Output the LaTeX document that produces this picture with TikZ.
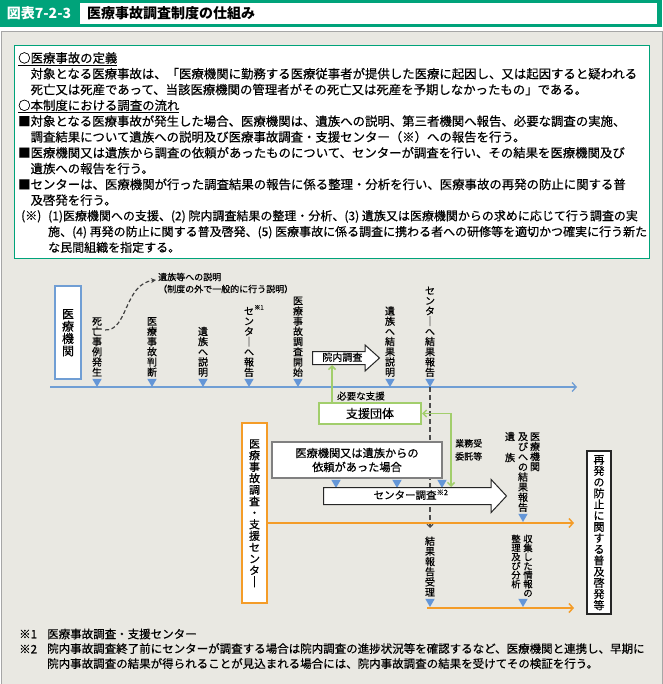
\documentclass[tikz,border=0pt]{standalone}
\usepackage{fontspec}
\setmainfont{Noto Sans CJK JP}[UprightFeatures={FakeBold=0.45}]
\usetikzlibrary{positioning,shapes.geometric,shapes.arrows,arrows.meta,calc}

\definecolor{hgreen}{RGB}{0,163,122}
\definecolor{panelgray}{RGB}{233,232,226}
\definecolor{tlblue}{RGB}{112,158,212}
\definecolor{triblue}{RGB}{100,150,215}
\definecolor{sgreen}{RGB}{162,206,108}
\definecolor{orng}{RGB}{244,156,40}
\definecolor{boxgray}{RGB}{128,128,128}

\newcommand{\fsz}[1]{\fontsize{#1}{#1}\selectfont}
% vertical text, one character per row
\makeatletter
\newcommand{\tate}[2][1.02em]{\def\tate@p{#1}\vbox{\offinterlineskip\tate@#2\relax}}
\def\tate@#1{\ifx\relax#1\else\hbox to 1em{\hss\raisebox{0pt}[0.88em][\dimexpr\tate@p-0.88em\relax]{#1}\hss}\expandafter\tate@\fi}
\makeatother

\begin{document}
\begin{tikzpicture}[x=1pt, y=-1pt,
    tline/.style={draw=tlblue, line width=1.3pt, -{Straight Barb[length=4pt, width=9pt]}},
    oline/.style={draw=orng, line width=1.5pt, -{Straight Barb[length=4pt, width=9pt]}},
    gline/.style={draw=sgreen, line width=1.5pt},
    dline/.style={draw=black!70, line width=1.2pt, dash pattern=on 5pt off 3pt, -{Straight Barb[length=3pt, width=6pt]}},
    tri/.style={regular polygon, regular polygon sides=3, shape border rotate=180, fill=triblue, inner sep=0pt, minimum size=11pt},
    vlab/.style={inner sep=0pt, font=\fsz{10}},
    orgbox/.style={draw=tlblue, line width=1.8pt, fill=white, inner sep=0pt, font=\fsz{12}},
    cbox/.style={draw=orng, line width=2.2pt, fill=white, inner sep=0pt, font=\fsz{11}},
    shienbox/.style={draw=sgreen, line width=2pt, fill=white, inner sep=0pt, font=\fsz{12}},
    reqbox/.style={draw=boxgray, line width=1.5pt, fill=white, inner sep=0pt, align=center, font=\fontsize{11.2}{14}\selectfont},
    endbox/.style={draw=black!85, line width=1.6pt, fill=white, inner sep=0pt, font=\fsz{11}},
    blockarrow/.style={single arrow, draw=black!85, fill=white, line width=1pt, single arrow head indent=0pt, inner xsep=2pt},
]
\useasboundingbox (0,0) rectangle (662,684);

%Header
\node[fill=hgreen, minimum width=662pt, minimum height=27pt, inner sep=0pt, anchor=north west] (hdr) at (0,0) {};
\node[fill=white, minimum width=577pt, minimum height=21pt, inner sep=0pt, anchor=north west] (ttlbox) at (80,3) {};
\node[font=\fsz{14}\bfseries, text=white, inner sep=0pt] (fignum) at (39,13.5) {図表7-2-3};
\node[font=\fsz{14}\bfseries, anchor=west, inner sep=0pt] (ttl) at (87,13.5) {医療事故調査制度の仕組み};

%Panel and text box
\node[draw=black!35, fill=panelgray, minimum width=661pt, minimum height=652pt, inner sep=0pt, anchor=north west] (panel) at (0.5,31.5) {};
\node[draw=hgreen, line width=1.3pt, fill=white, minimum width=635pt, minimum height=213pt, inner sep=0pt, anchor=north west] (defbox) at (14,45) {};
\node[anchor=north west, inner sep=0pt, align=left, font=\fontsize{12.4}{15.8}\selectfont] (deftxt) at (18,52) {%
\underline{○医療事故の定義}\\
\hspace*{1em}対象となる医療事故は、「医療機関に勤務する医療従事者が提供した医療に起因し、又は起因すると疑われる\\
\hspace*{1em}死亡又は死産であって、当該医療機関の管理者がその死亡又は死産を予期しなかったもの」である。\\
\underline{○本制度における調査の流れ}\\
■対象となる医療事故が発生した場合、医療機関は、遺族への説明、第三者機関へ報告、必要な調査の実施、\\
\hspace*{1em}調査結果について遺族への説明及び医療事故調査・支援センター（※）への報告を行う。\\
■医療機関又は遺族から調査の依頼があったものについて、センターが調査を行い、その結果を医療機関及び\\
\hspace*{1em}遺族への報告を行う。\\
■センターは、医療機関が行った調査結果の報告に係る整理・分析を行い、医療事故の再発の防止に関する普\\
\hspace*{1em}及啓発を行う。};
\node[anchor=north west, inner sep=0pt, font=\fsz{12}] (kome) at (21,210) {(※)};
\node[anchor=north west, inner sep=0pt, align=left, font=\fontsize{12}{15.8}\selectfont] (notetxt) at (48,210) {%
(1)医療機関への支援、(2) 院内調査結果の整理・分析、(3) 遺族又は医療機関からの求めに応じて行う調査の実\\
施、(4) 再発の防止に関する普及啓発、(5) 医療事故に係る調査に携わる者への研修等を適切かつ確実に行う新た\\
な民間組織を指定する。};

%Timeline
\coordinate (tlA) at (50,387);
\coordinate (tlB) at (577,387);
\draw[tline] (tlA) -- (tlB);
\foreach \nm/\xx in {t1/97, t2/152, t3/203, t4/249, t5/298, t6/390, t7/430}
    \node[tri] (\nm) at (\xx,381.5) {};

\node[orgbox, minimum width=26pt, minimum height=93pt] (kikan) at (68,332.5) {\tate[12.3pt]{医療機関}};
\node[vlab, above=1pt of t1] (hassei) {\tate[10.2pt]{死亡事例発生}};
\node[vlab, above=1pt of t2] (handan) {\tate[10.2pt]{医療事故判断}};
\node[vlab, above=1pt of t3] (setsumei) {\tate[10.2pt]{遺族へ説明}};
\node[vlab, above=1pt of t4] (hokoku) {\tate[10.2pt]{センタ｜へ報告}};
\node[font=\fsz{6}, inner sep=0pt, anchor=south west] (kome1) at ([yshift=-4pt]hokoku.north east) {※1};
\node[vlab, above=1pt of t5] (kaishi) {\tate[10.2pt]{医療事故調査開始}};
\node[vlab, above=1pt of t6] (kekkaset) {\tate[10.2pt]{遺族へ結果説明}};
\node[vlab, above=1pt of t7] (kekkahok) {\tate[10.2pt]{センタ｜へ結果報告}};

\node[font=\fsz{9}, inner sep=0pt, anchor=west] (setsu) at (158,277) {遺族等への説明};
\node[font=\fsz{9}, inner sep=0pt, anchor=west] (setsu2) at (158,289) {（制度の外で一般的に行う説明）};
\draw[black!75, line width=1.2pt, dash pattern=on 4pt off 2.5pt, -{Stealth[length=5pt, width=5pt]}]
    ($(hassei.north east)+(3,14)$) .. controls (128,331) and (124,284) .. ([xshift=-2pt, yshift=-3pt]setsu.west);

%Hospital investigation and support
\node[blockarrow, minimum height=67pt, single arrow head extend=6.5pt, single arrow tip angle=84,
      text height=8pt, text depth=2pt, inner ysep=1pt, font=\fsz{10}, anchor=tail] (innai) at (312,358) {院内調査};
\node[shienbox, minimum width=102pt, minimum height=21pt] (shien) at (370,413.5) {支援団体};
\coordinate (gsup) at ($(shien.north west)+(14,0)$);
\draw[gline, -{Straight Barb[length=3.5pt, width=7pt]}] (gsup) -- (gsup |- innai.south);
\node[font=\fsz{9.5}, inner sep=0pt, anchor=west] (hitsuyo) at (337,396) {必要な支援};

\coordinate (dend) at (430,528);
\draw[dline] (t7.south) -- (dend);

%Center
\node[cbox, minimum width=25pt, minimum height=180pt] (center) at (254.5,513) {\tate[11.5pt]{医療事故調査・支援センタ｜}};
\node[reqbox, minimum width=170pt, minimum height=36pt] (irai) at (357,460) {医療機関又は遺族からの\\依頼があった場合};
\foreach \nm/\xx in {r1/336, r2/397, r3/442}
    \node[tri] (\nm) at (\xx,482.5) {};
\node[blockarrow, minimum height=183pt, single arrow head extend=8pt, single arrow tip angle=94,
      text height=9pt, text depth=3pt, inner ysep=2pt, font=\fsz{10.5}, anchor=tail] (chosa) at (323,496) {センター調査\textsuperscript{※2}};

\coordinate (gyo) at (451,0);
\draw[gline, {Straight Barb[length=3.5pt, width=7pt]}-{Straight Barb[length=3.5pt, width=7pt]}] (shien.east) -| (gyo |- chosa.north);
\node[font=\fontsize{9}{13}\selectfont, inner sep=0pt, align=left, anchor=north west] (gyomu) at (455,439) {業務受\\委託等};

\coordinate (o1) at (574,523);
\draw[oline] (center.east |- o1) -- (o1);
\coordinate (o2s) at (427,608);
\coordinate (o2e) at (574,608);
\draw[oline] (o2s) -- (o2e);

\node[tri] (q1) at (523,516.5) {};
\node[vlab, above=1pt of q1] (houkoku2) {\tate[10.1pt]{及びへの結果報告}};
\node[vlab, anchor=north] (kikan2) at ([xshift=12pt]houkoku2.north) {\tate[10pt]{医療機関}};
\node[vlab, anchor=north] (izoku) at ([xshift=-13pt]houkoku2.north) {\tate[21pt]{遺族}};

\node[tri] (q2) at (430,601.5) {};
\node[vlab, above=1pt of q2] (juri) {\tate[10.2pt]{結果報告受理}};
\node[tri] (q3) at (523,601.5) {};
\node[vlab, font=\fsz{9.3}, above=1pt of q3, xshift=5pt] (shushu) {\tate[9pt]{収集した情報の}};
\node[vlab, font=\fsz{9.3}, anchor=north] (bunseki) at ([xshift=-12pt]shushu.north) {\tate[9pt]{整理及び分析}};

\node[endbox, minimum width=24pt, minimum height=163pt] (fukyu) at (599,532.5) {\tate[11.2pt]{再発の防止に関する普及啓発等}};

%Footnotes
\node[font=\fsz{11.5}, inner sep=0pt, anchor=west] (fn1) at (19,634) {※1};
\node[font=\fsz{11.5}, inner sep=0pt, anchor=west] (fn1t) at (47,634) {医療事故調査・支援センター};
\node[font=\fsz{11.5}, inner sep=0pt, anchor=west] (fn2) at (19,649) {※2};
\node[font=\fontsize{11.5}{15}\selectfont, inner sep=0pt, align=left, anchor=north west] (fn2t) at (47,643) {%
院内事故調査終了前にセンターが調査する場合は院内調査の進捗状況等を確認するなど、医療機関と連携し、早期に\\
院内事故調査の結果が得られることが見込まれる場合には、院内事故調査の結果を受けてその検証を行う。};
\end{tikzpicture}
\end{document}
